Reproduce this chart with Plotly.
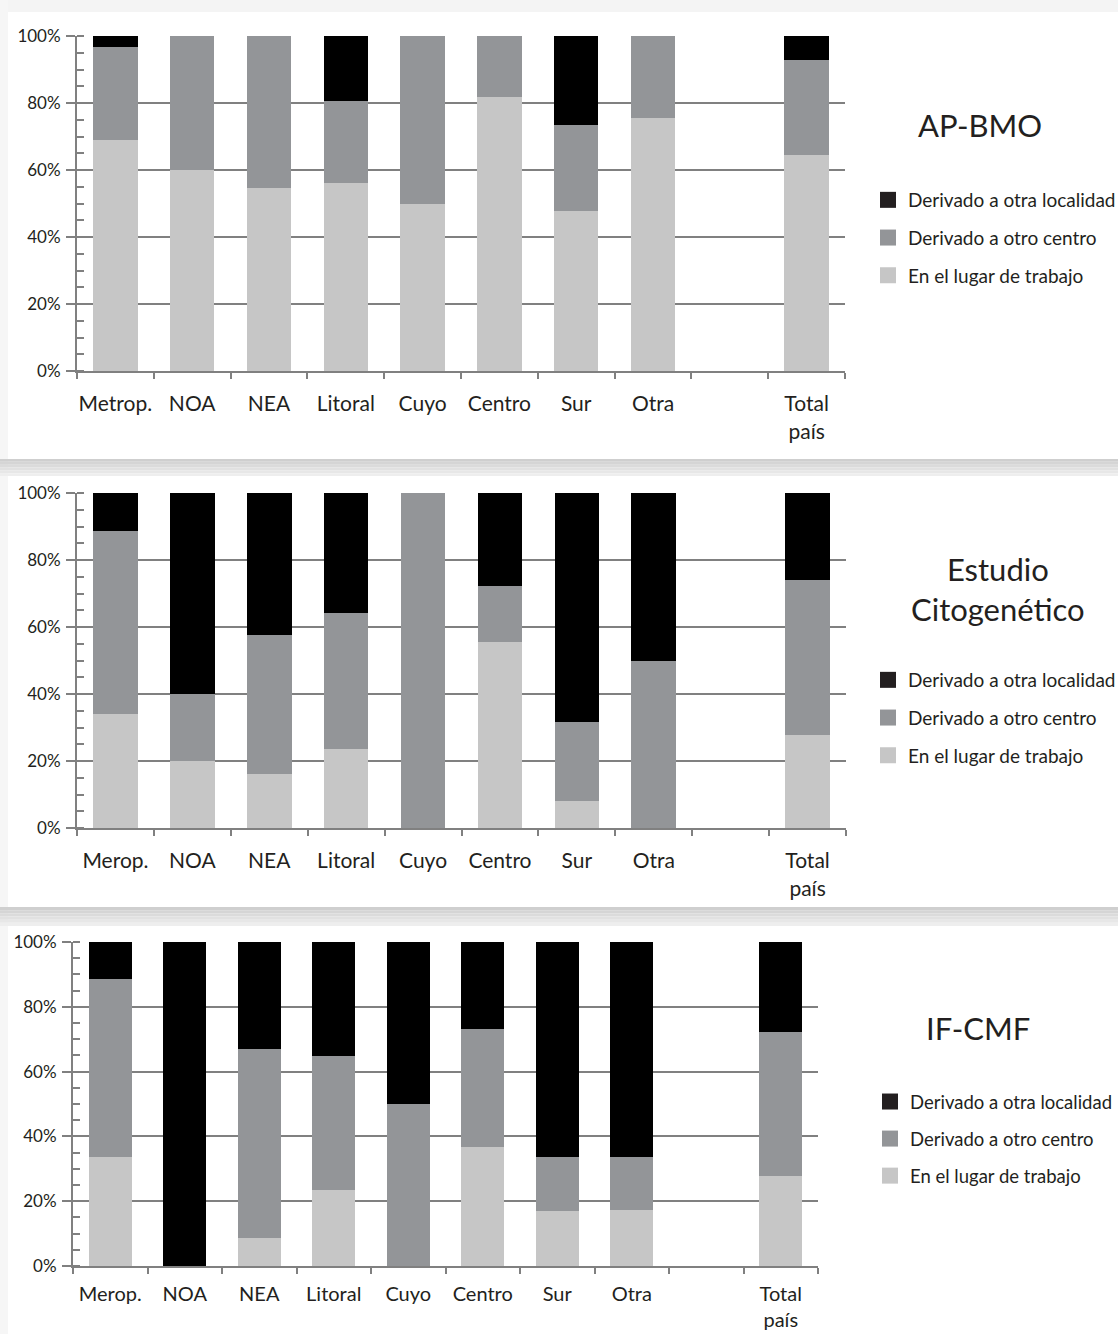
import plotly.graph_objects as go

W, H = 1118, 1334
FONT = "Lato"
TXT = "#231f20"
AXC = "#808080"
C_LIGHT = "#c6c6c6"
C_MID = "#939598"
C_DARK = "#000000"

series_names = ["En el lugar de trabajo", "Derivado a otro centro", "Derivado a otra localidad"]

# Panel 1: AP-BMO
cats1 = ["Metrop.", "NOA", "NEA", "Litoral", "Cuyo", "Centro", "Sur", "Otra", " ", "Total<br>país"]
lugar1 = [69.0, 60.0, 54.5, 56.0, 50.0, 81.8, 47.7, 75.4, None, 64.5]
centro1 = [27.7, 40.0, 45.5, 24.7, 50.0, 18.2, 25.8, 24.6, None, 28.3]
local1 = [3.3, 0.0, 0.0, 19.3, 0.0, 0.0, 26.5, 0.0, None, 7.2]

# Panel 2: Estudio Citogenético
cats2 = ["Merop.", "NOA", "NEA", "Litoral", "Cuyo", "Centro", "Sur", "Otra", " ", "Total<br>país"]
lugar2 = [34.1, 20.0, 16.2, 23.7, 0.0, 55.5, 8.2, 0.0, None, 27.9]
centro2 = [54.7, 20.0, 41.5, 40.6, 100.0, 16.7, 23.5, 50.0, None, 46.0]
local2 = [11.2, 60.0, 42.3, 35.7, 0.0, 27.8, 68.3, 50.0, None, 26.1]

# Panel 3: IF-CMF
cats3 = ["Merop.", "NOA", "NEA", "Litoral", "Cuyo", "Centro", "Sur", "Otra", " ", "Total<br>país"]
lugar3 = [33.6, 0.0, 8.6, 23.4, 0.0, 36.7, 17.0, 17.4, None, 27.7]
centro3 = [54.9, 0.0, 58.3, 41.3, 50.0, 36.4, 16.6, 16.2, None, 44.4]
local3 = [11.5, 100.0, 33.1, 35.3, 50.0, 26.9, 66.4, 66.4, None, 27.9]

titles = ["AP-BMO", "Estudio<br>Citogenético", "IF-CMF"]

def py(y):  # pixel y -> paper
    return 1 - y / H

def px(x):
    return x / W

panels = [
    dict(cats=cats1, vals=[lugar1, centro1, local1], xdom=[px(77), px(845)], ydom=[py(371), py(36)],
         title_xy=(980, 125), leg_xy=(868, 181), xfs=21, stand=13, lfs=19),
    dict(cats=cats2, vals=[lugar2, centro2, local2], xdom=[px(77), px(846)], ydom=[py(828), py(493)],
         title_xy=(998, 589), leg_xy=(868, 661), xfs=21, stand=13, lfs=19),
    dict(cats=cats3, vals=[lugar3, centro3, local3], xdom=[px(73), px(818)], ydom=[py(1266), py(942)],
         title_xy=(978, 1028), leg_xy=(870, 1083), xfs=20, stand=9, lfs=18.5),
]

colors = [C_LIGHT, C_MID, C_DARK]
leg_colors = [C_LIGHT, C_MID, TXT]

fig = go.Figure()
layout = dict(
    template="none",
    width=W, height=H, margin=dict(l=0, r=0, t=0, b=0, autoexpand=False),
    paper_bgcolor="white", plot_bgcolor="rgba(0,0,0,0)",
    barmode="stack", bargap=0.42,
    font=dict(family=FONT, color=TXT),
    showlegend=True,
)
annotations = []
shapes = []

for i, p in enumerate(panels):
    n = "" if i == 0 else str(i + 1)
    xa, ya = "x" + n, "y" + n
    legname = "legend" + n
    for s in range(3):
        fig.add_trace(go.Bar(
            x=p["cats"], y=p["vals"][s], name=series_names[s],
            marker=dict(color=colors[s], line=dict(width=0)),
            xaxis=xa, yaxis=ya, showlegend=False,
        ))
    # legend proxies (top: localidad)
    for s in [2, 1, 0]:
        fig.add_trace(go.Scatter(
            x=[None], y=[None], mode="markers", name=series_names[s],
            marker=dict(symbol="square", size=16, color=leg_colors[s]),
            xaxis=xa, yaxis=ya, legend=legname, legendgroup=f"g{i}{s}",
        ))
    layout["xaxis" + n] = dict(
        domain=p["xdom"], anchor=ya, type="category", automargin=False,
        categoryorder="array", categoryarray=p["cats"], range=[-0.5, 9.5],
        showline=True, linecolor=AXC, linewidth=2,
        ticks="outside", tickson="boundaries", ticklen=6, tickwidth=2, tickcolor=AXC,
        showgrid=False, tickangle=0, tickfont=dict(size=p["xfs"], family=FONT, color=TXT),
        ticklabelstandoff=p["stand"], fixedrange=True,
    )
    layout["yaxis" + n] = dict(
        domain=p["ydom"], anchor=xa, range=[0, 100], dtick=20, ticksuffix="%", automargin=False,
        showline=True, linecolor=AXC, linewidth=2,
        ticks="outside", ticklen=9, tickwidth=2, tickcolor=AXC,
        showgrid=True, gridcolor=AXC, gridwidth=2, zeroline=False,
        minor=dict(dtick=5, ticks="inside", ticklen=7, tickwidth=2, tickcolor=AXC, showgrid=False),
        tickfont=dict(size=17, family=FONT, color=TXT), ticklabelstandoff=2, fixedrange=True,
    )
    layout[legname] = dict(
        x=px(p["leg_xy"][0]), y=py(p["leg_xy"][1]), xanchor="left", yanchor="top",
        bgcolor="rgba(0,0,0,0)", font=dict(size=p["lfs"], family=FONT, color=TXT),
        tracegroupgap=10, itemclick=False, itemdoubleclick=False,
    )
    tx, ty = p["title_xy"]
    annotations.append(dict(
        x=px(tx), y=py(ty), xref="paper", yref="paper", text=titles[i], showarrow=False,
        font=dict(size=31, family=FONT, color=TXT), xanchor="center", yanchor="middle",
    ))

# page decoration: card edges / shadows
def rect(x0, y0, x1, y1, color):
    return dict(type="rect", xref="paper", yref="paper", x0=px(x0), x1=px(x1),
                y0=py(y1), y1=py(y0), fillcolor=color, line=dict(width=0), layer="below")

shapes.append(rect(0, 0, W, 12, "#f4f4f4"))
shapes.append(rect(0, 0, 8, H, "#f6f6f6"))
for (y0, y1) in [(459, 476), (907, 926)]:
    steps = 6
    for k in range(steps):
        a = y0 + (y1 - y0) * k / steps
        b = y0 + (y1 - y0) * (k + 1) / steps
        g = int(0xcf + (0xee - 0xcf) * k / (steps - 1))
        shapes.append(rect(0, a, W, b, f"rgb({g},{g},{g})"))

layout["annotations"] = annotations
layout["shapes"] = shapes
fig.update_layout(**layout)
fig.write_html(
    "out.html",
    config={"displayModeBar": False},
    post_script="document.body.style.margin='0';document.body.style.overflow='hidden';",
)
